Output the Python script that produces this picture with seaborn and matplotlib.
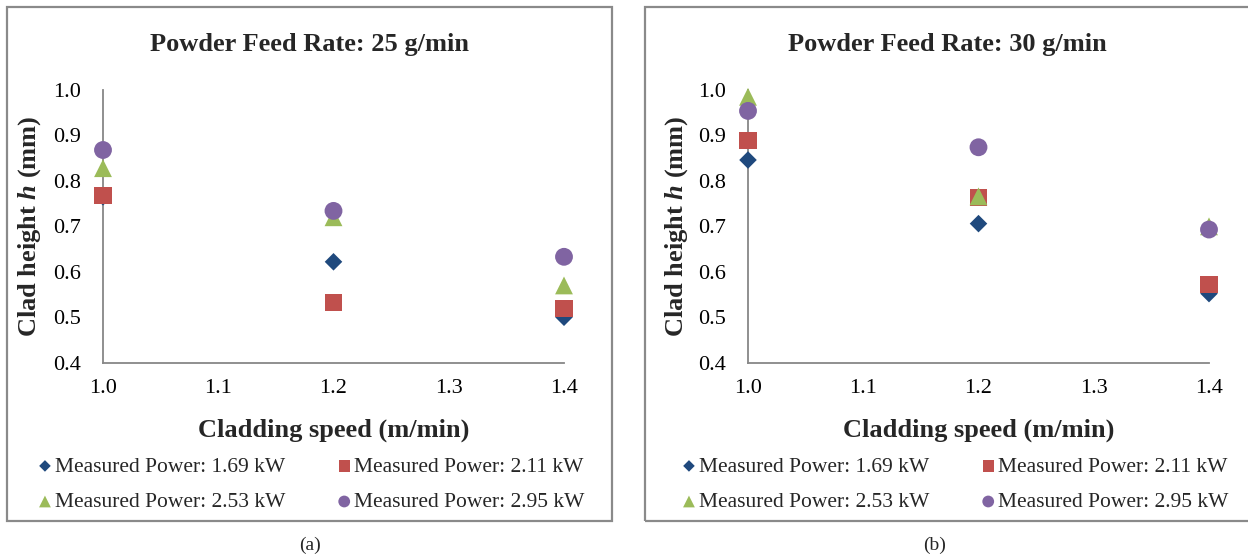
import matplotlib
matplotlib.use("Agg")
import matplotlib.pyplot as plt
import pandas as pd
import seaborn as sns
from matplotlib.patches import Rectangle

# Cladding speeds (m/min)
speeds = [1.0, 1.2, 1.4]
x_ticks = [1.0, 1.1, 1.2, 1.3, 1.4]
y_ticks = [0.4, 0.5, 0.6, 0.7, 0.8, 0.9, 1.0]

power_labels = [
    "Measured Power: 1.69 kW",
    "Measured Power: 2.11 kW",
    "Measured Power: 2.53 kW",
    "Measured Power: 2.95 kW",
]

# Clad height h (mm), powder feed rate 25 g/min
h25_p169 = [0.765, 0.622, 0.500]
h25_p211 = [0.768, 0.532, 0.519]
h25_p253 = [0.828, 0.720, 0.570]
h25_p295 = [0.868, 0.734, 0.633]

# Clad height h (mm), powder feed rate 30 g/min
h30_p169 = [0.846, 0.706, 0.552]
h30_p211 = [0.888, 0.763, 0.573]
h30_p253 = [0.985, 0.766, 0.700]
h30_p295 = [0.954, 0.874, 0.693]

panel_titles = ["Powder Feed Rate: 25 g/min", "Powder Feed Rate: 30 g/min"]
panel_captions = ["(a)", "(b)"]

colors = ["#1F497D", "#C0504D", "#9BBB59", "#8064A2"]
markers = ["D", "s", "^", "o"]
sizes = [80, 150, 165, 165]

sns.set_theme(style="white")
plt.rcParams["font.family"] = ["Liberation Serif", "DejaVu Serif"]
plt.rcParams["mathtext.fontset"] = "custom"
plt.rcParams["mathtext.it"] = "Liberation Serif:italic:bold"
plt.rcParams["mathtext.rm"] = "Liberation Serif:bold"

W, H = 1248, 557
fig = plt.figure(figsize=(W / 100, H / 100), dpi=100)
fig.patch.set_facecolor("white")

spine_color = "#878787"


def fx(px):
    return px / W


def fy(py):
    return 1 - py / H


panels = [
    dict(series=[h25_p169, h25_p211, h25_p253, h25_p295], ax_left=103, ax_right=564,
         box=(7, 612), title_x=309.5, caption_x=310, ylabel_x=30, leg_x=38.5),
    dict(series=[h30_p169, h30_p211, h30_p253, h30_p295], ax_left=748, ax_right=1209,
         box=(645, 1252), title_x=947, caption_x=935, ylabel_x=677, leg_x=682.5),
]

ax_top, ax_bottom = 90, 362.7

for i, p in enumerate(panels):
    # frame around each panel
    bx0, bx1 = p["box"]
    fig.patches.append(Rectangle((fx(bx0), fy(521)), fx(bx1 - bx0), (521 - 7) / H,
                                 transform=fig.transFigure, fill=False,
                                 edgecolor="#8a8a8a", linewidth=1.6, zorder=0))

    ax = fig.add_axes([fx(p["ax_left"]), fy(ax_bottom),
                       fx(p["ax_right"] - p["ax_left"]), (ax_bottom - ax_top) / H])
    ax.set_facecolor("none")

    for vals, lab, col, mk, sz in zip(p["series"], power_labels, colors, markers, sizes):
        df = pd.DataFrame({"speed": speeds, "height": vals})
        sns.scatterplot(data=df, x="speed", y="height", ax=ax, marker=mk, s=sz,
                        color=col, edgecolor="none", linewidth=0, label=lab,
                        clip_on=False, zorder=3)

    ax.set_xlim(1.0, 1.4)
    ax.set_ylim(0.4, 1.0)
    ax.set_xticks(x_ticks)
    ax.set_yticks(y_ticks)
    ax.set_xticklabels([f"{t:.1f}" for t in x_ticks])
    ax.set_yticklabels([f"{t:.1f}" for t in y_ticks])
    ax.tick_params(axis="both", which="major", direction="out", length=5,
                   width=1.3, color=spine_color, labelsize=16, labelcolor="black")
    ax.tick_params(axis="y", pad=11)
    ax.tick_params(axis="x", pad=7)
    for side in ["top", "right"]:
        ax.spines[side].set_visible(False)
    for side in ["left", "bottom"]:
        ax.spines[side].set_color(spine_color)
        ax.spines[side].set_linewidth(1.3)

    ax.set_xlabel("")
    ax.set_ylabel("")
    fig.text(fx((p["ax_left"] + p["ax_right"]) / 2), fy(430), "Cladding speed (m/min)",
             ha="center", va="center", fontsize=19, fontweight="bold")
    fig.text(fx(p["ylabel_x"]), fy((ax_top + ax_bottom) / 2), r"Clad height $h$ (mm)",
             ha="center", va="center", rotation=90, fontsize=19, fontweight="bold")
    fig.text(fx(p["title_x"]), fy(45), panel_titles[i], ha="center", va="center",
             fontsize=19, fontweight="bold")
    fig.text(fx(p["caption_x"]), fy(545), panel_captions[i], ha="center", va="center",
             fontsize=14)

    # legend filled row by row: 1.69 | 2.11 on top, 2.53 | 2.95 below
    handles, labels = ax.get_legend_handles_labels()
    order = [0, 2, 1, 3]
    ax.legend([handles[k] for k in order], [labels[k] for k in order], ncol=2,
              loc="upper left", bbox_to_anchor=(fx(p["leg_x"]), fy(456.5)),
              bbox_transform=fig.transFigure, frameon=False, fontsize=15.5,
              handlelength=0.6, handletextpad=0.15, columnspacing=2.45,
              labelspacing=0.72, borderpad=0, borderaxespad=0, markerscale=0.66)

fig.savefig("out.png", dpi=100, facecolor="white")
